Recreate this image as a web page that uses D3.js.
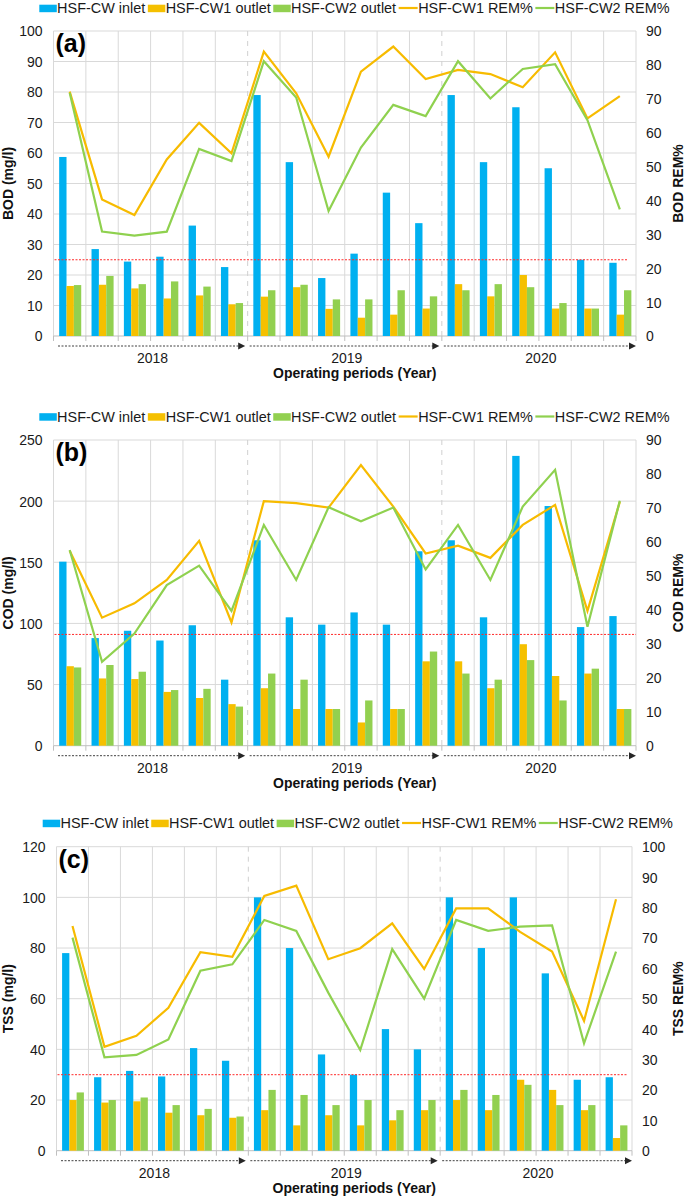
<!DOCTYPE html>
<html><head><meta charset="utf-8">
<script src="https://cdn.jsdelivr.net/npm/d3@7"></script>
<style>
body{margin:0;background:#fff;}
svg{display:block;font-family:"Liberation Sans",Arial,Helvetica,sans-serif;}
</style></head><body>
<svg id="chart" width="685" height="1198"></svg>
<script>
// ---------- DATA ----------
const categories = ["2018-1","2018-2","2018-3","2018-4","2018-5","2018-6",
                    "2019-1","2019-2","2019-3","2019-4","2019-5","2019-6",
                    "2020-1","2020-2","2020-3","2020-4","2020-5","2020-6"];
const years = ["2018","2019","2020"];
const seriesNames = ["HSF-CW inlet","HSF-CW1 outlet","HSF-CW2 outlet","HSF-CW1 REM%","HSF-CW2 REM%"];

const bodInlet  = [58.7,28.5,24.4,26,36.2,22.6,79,57,19,27,47,37,79,57,75,55,25,24];
const bodCw1    = [16.4,16.8,15.6,12.3,13.3,10.4,12.9,16,8.9,6,7,9,17,13,20,9,9,7];
const bodCw2    = [16.7,19.7,17,17.9,16.2,10.8,15,16.8,12,12,15,13,15,17,16,10.8,9,15];
const bodCw1Rem = [72.1,40.3,35.7,52.1,62.9,53.9,83.9,71.6,52.9,78,85.4,75.8,78.5,77.3,73.4,83.7,64.2,70.8];
const bodCw2Rem = [71.8,30.8,29.6,30.8,55.2,51.6,81.1,70.4,36.9,55.6,68.2,64.9,81.1,70.1,78.8,80.2,63.7,37.4];
const bodLimit = 25;

const codInlet  = [150.5,88,94,86,98.5,54,168,105,99,109,99,159,168,105,237,196,97,106];
const codCw1    = [65,55,54.5,44,39,34,47,30,30,19,30,69,69,47,83,57,59,30];
const codCw2    = [64,66,60.5,45.5,46.5,32,59,54,30,37,30,77,59,54,70,37,63,30];
const codCw1Rem = [57.4,37.7,41.9,48.8,60.3,36.3,72,71.4,70.1,82.6,70.4,56.6,58.9,55.3,65,70.9,39.7,71.8];
const codCw2Rem = [57.6,24.7,33,47.3,53,39.7,65,48.8,70.2,66.1,70.1,51.9,65,48.8,70.4,81.2,35,72.1];
const codLimit = 91;

const tssInlet  = [78,29,31.5,29.3,40.5,35.5,100,80,38,30,48,40,100,80,100,70,28,29];
const tssCw1    = [20,19,19.5,15,14,13,16,10,14,10,12,16,20,16,28,24,16,5];
const tssCw2    = [23,20,21,18,16.5,13.5,24,22,18,20,16,20,24,22,26,18,18,10];
const tssCw1Rem = [73.9,34.2,37.8,47,65.3,63.8,83.8,87.2,63,66.6,74.8,59.8,79.7,79.7,72,65.5,42.7,82.7];
const tssCw2Rem = [70.1,30.7,31.5,36.6,59.2,61.3,75.9,72.3,52,33.1,66.3,50,75.9,72.3,73.7,74.1,35.3,65.5];
const tssLimit = 30;

const leftTicksA = [0,10,20,30,40,50,60,70,80,90,100];
const rightTicksA = [0,10,20,30,40,50,60,70,80,90];
const leftTicksB = [0,50,100,150,200,250];
const rightTicksB = [0,10,20,30,40,50,60,70,80,90];
const leftTicksC = [0,20,40,60,80,100,120];
const rightTicksC = [0,10,20,30,40,50,60,70,80,90,100];

// ---------- STYLE ----------
const colors = ["#00b0f0","#f5c000","#92d050"];
const lineColors = ["#f7bb00","#8fd14f"];
const gridColor = "#d9d9d9";

const svg = d3.select("#chart");

function drawPanel(cfg){
  const g = svg.append("g");
  const x = d3.scaleBand().domain(categories).range([cfg.left,cfg.right]).padding(0);
  const xs = d3.scaleBand().domain([0,1,2]).range([0,x.bandwidth()]).paddingInner(0).paddingOuter(0.7).align(0.55);
  const yL = d3.scaleLinear().domain([0,d3.max(cfg.leftTicks)]).range([cfg.bottom,cfg.top]);
  const yR = d3.scaleLinear().domain([0,d3.max(cfg.rightTicks)]).range([cfg.bottom,cfg.top]);
  const bw = x.bandwidth();

  // horizontal grid
  g.selectAll(".hg").data(cfg.leftTicks.slice(1)).join("line")
    .attr("x1",cfg.left).attr("x2",cfg.right)
    .attr("y1",d=>yL(d)).attr("y2",d=>yL(d))
    .attr("stroke",gridColor).attr("stroke-width",1);
  // vertical grid
  const bounds = d3.range(0,categories.length+1);
  g.selectAll(".vg").data(bounds).join("line")
    .attr("x1",k=>cfg.left+k*bw).attr("x2",k=>cfg.left+k*bw)
    .attr("y1",cfg.top).attr("y2",cfg.bottom)
    .attr("stroke",k=>(k===6||k===12)?"#d0d0d0":gridColor)
    .attr("stroke-dasharray",k=>(k===6||k===12)?"5,5":null)
    .attr("stroke-width",1);
  // baseline + ticks
  g.append("line").attr("x1",cfg.left).attr("x2",cfg.right).attr("y1",cfg.bottom).attr("y2",cfg.bottom)
    .attr("stroke","#bfbfbf").attr("stroke-width",1);
  g.selectAll(".xt").data(bounds).join("line")
    .attr("x1",k=>cfg.left+k*bw).attr("x2",k=>cfg.left+k*bw)
    .attr("y1",cfg.bottom).attr("y2",cfg.bottom+5)
    .attr("stroke","#bfbfbf").attr("stroke-width",1);

  // bars
  const barSeries = [cfg.inlet,cfg.cw1,cfg.cw2];
  barSeries.forEach((arr,si)=>{
    g.selectAll(".b"+si).data(arr).join("rect")
      .attr("x",(d,i)=>x(categories[i])+xs(si))
      .attr("width",xs.bandwidth())
      .attr("y",d=>yL(d))
      .attr("height",d=>cfg.bottom-yL(d))
      .attr("fill",colors[si]);
  });

  // limit line
  g.append("line").attr("x1",cfg.left+1).attr("x2",cfg.limitEnd)
    .attr("y1",yL(cfg.limit)).attr("y2",yL(cfg.limit))
    .attr("stroke","#ff2a2a").attr("stroke-width",1).attr("stroke-dasharray","2,1.5");

  // REM lines
  const line = d3.line().x((d,i)=>x(categories[i])+bw/2).y(d=>yR(d));
  [cfg.rem1,cfg.rem2].forEach((arr,li)=>{
    g.append("path").datum(arr).attr("d",line).attr("fill","none")
      .attr("stroke",lineColors[li]).attr("stroke-width",2.2).attr("stroke-linejoin","miter");
  });

  // axes labels
  const axL = d3.axisLeft(yL).tickValues(cfg.leftTicks).tickSize(0).tickPadding(0);
  const gl = g.append("g").attr("transform",`translate(${cfg.left-11},0)`).call(axL);
  gl.select(".domain").remove();
  gl.selectAll("text").attr("font-size",14).attr("fill","#1a1a1a").attr("font-family",null).attr("dy","0.35em");
  const axR = d3.axisRight(yR).tickValues(cfg.rightTicks).tickSize(0).tickPadding(0);
  const gr = g.append("g").attr("transform",`translate(${cfg.right+10},0)`).call(axR);
  gr.select(".domain").remove();
  gr.selectAll("text").attr("font-size",14).attr("fill","#1a1a1a").attr("font-family",null).attr("dy","0.35em");

  // year arrows
  const arrowY = cfg.bottom+10;
  years.forEach((yr,yi)=>{
    const xs0 = cfg.left+yi*6*bw + (yi===0?4.5:2);
    const xe = cfg.left+(yi+1)*6*bw - (yi===2?0:2.5);
    g.append("line").attr("x1",xs0).attr("x2",xe-5).attr("y1",arrowY).attr("y2",arrowY)
      .attr("stroke","#404040").attr("stroke-width",1).attr("stroke-dasharray","2,1.5");
    g.append("path").attr("d",`M${xe},${arrowY} L${xe-7},${arrowY-3.5} L${xe-7},${arrowY+3.5} Z`).attr("fill","#262626");
    g.append("text").attr("x",cfg.left+(yi*6+3)*bw+2).attr("y",cfg.bottom+27)
      .attr("text-anchor","middle").attr("font-size",14).attr("fill","#1a1a1a").text(yr);
  });
  g.append("text").attr("x",(cfg.left+cfg.right)/2+10).attr("y",cfg.bottom+42)
    .attr("text-anchor","middle").attr("font-size",14).attr("font-weight","bold").attr("fill","#111")
    .text("Operating periods (Year)");

  // axis titles
  const cy = (cfg.top+cfg.bottom)/2;
  g.append("text").attr("transform",`translate(12.5,${cy}) rotate(-90)`).attr("text-anchor","middle")
    .attr("font-size",14).attr("font-weight","bold").attr("fill","#111").text(cfg.leftTitle);
  g.append("text").attr("transform",`translate(683,${cy}) rotate(-90)`).attr("text-anchor","middle")
    .attr("font-size",14).attr("font-weight","bold").attr("fill","#111").text(cfg.rightTitle);

  // panel letter
  g.append("text").attr("x",cfg.left+2).attr("y",cfg.top+21).attr("font-size",25).attr("font-weight","bold")
    .attr("fill","#000").text(cfg.letter);

  // legend
  const lg = g.append("g");
  let cx = cfg.legendX;
  const ly = cfg.legendY;
  seriesNames.forEach((name,i)=>{
    if(i<3){
      lg.append("rect").attr("x",cx).attr("y",ly-8.3).attr("width",17.5).attr("height",7.5).attr("fill",colors[i]);
    } else {
      lg.append("line").attr("x1",cx).attr("x2",cx+19).attr("y1",ly-5).attr("y2",ly-5)
        .attr("stroke",lineColors[i-3]).attr("stroke-width",2.2);
    }
    cx += (i<3?17.8:19.5);
    const t = lg.append("text").attr("x",cx).attr("y",ly).attr("font-size",14.45).attr("fill","#1a1a1a").text(name);
    cx += t.node().getComputedTextLength() + 2.5;
  });
}

drawPanel({letter:"(a)",left:53.5,right:636,top:31,bottom:336,leftTicks:leftTicksA,rightTicks:rightTicksA,
  inlet:bodInlet,cw1:bodCw1,cw2:bodCw2,rem1:bodCw1Rem,rem2:bodCw2Rem,limit:bodLimit,limitEnd:627,
  leftTitle:"BOD (mg/l)",rightTitle:"BOD REM%",legendX:39.3,legendY:13});
drawPanel({letter:"(b)",left:53.5,right:636,top:440,bottom:745.7,leftTicks:leftTicksB,rightTicks:rightTicksB,
  inlet:codInlet,cw1:codCw1,cw2:codCw2,rem1:codCw1Rem,rem2:codCw2Rem,limit:codLimit,limitEnd:636,
  leftTitle:"COD (mg/l)",rightTitle:"COD REM%",legendX:39.3,legendY:421.5});
drawPanel({letter:"(c)",left:56.5,right:632,top:846.7,bottom:1150.7,leftTicks:leftTicksC,rightTicks:rightTicksC,
  inlet:tssInlet,cw1:tssCw1,cw2:tssCw2,rem1:tssCw1Rem,rem2:tssCw2Rem,limit:tssLimit,limitEnd:627,
  leftTitle:"TSS (mg/l)",rightTitle:"TSS REM%",legendX:42.7,legendY:828});
</script>
</body></html>
